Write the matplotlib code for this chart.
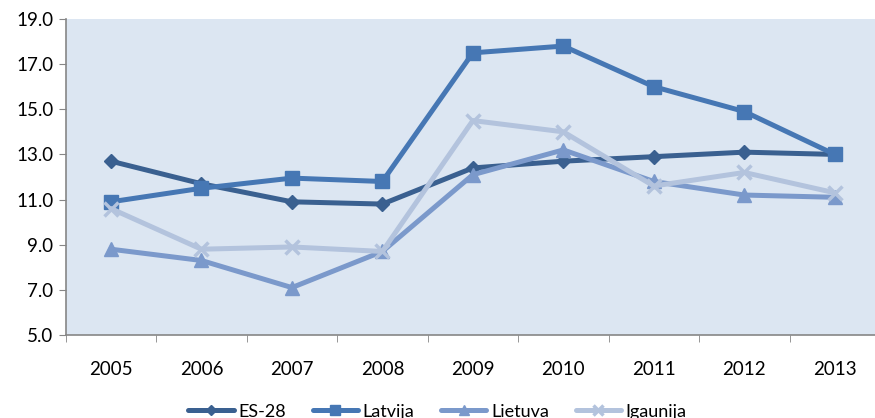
import numpy as np
import matplotlib.pyplot as plt

years = ['2005', '2006', '2007', '2008', '2009', '2010', '2011', '2012', '2013']
es28 = [12.7, 11.7, 10.9, 10.8, 12.4, 12.7, 12.9, 13.1, 13.0]
latvija = [10.9, 11.5, 11.95, 11.8, 17.5, 17.8, 16.0, 14.9, 13.0]
lietuva = [8.8, 8.3, 7.1, 8.7, 12.1, 13.2, 11.8, 11.2, 11.1]
igaunija = [10.6, 8.8, 8.9, 8.7, 14.5, 14.0, 11.6, 12.2, 11.3]

names = ['ES-28', 'Latvija', 'Lietuva', 'Igaunija']
colors = ['#3a6090', '#4677b4', '#7b99cb', '#b3c3dd']
markers = ['D', 's', '^', 'x']
msizes = [7, 10, 10, 10]

plt.rcParams['font.family'] = ['Lato', 'DejaVu Sans']

fig = plt.figure(figsize=(8.75, 4.18), dpi=100)
ax = fig.add_axes([0.0751, 0.1986, 0.9306, 0.756])
ax.set_facecolor('#dce6f2')

x = np.arange(len(years))
for vals, name, c, m, ms in zip([es28, latvija, lietuva, igaunija], names, colors, markers, msizes):
    ax.plot(x, vals, color=c, lw=3.6, marker=m, markersize=ms,
            markeredgewidth=2.5 if m == 'x' else 1, markeredgecolor=c,
            label=name, solid_joinstyle='round', solid_capstyle='round')

ax.set_xlim(-0.5, len(years) - 0.5)
ax.set_ylim(5, 19)
ax.set_yticks(np.arange(5, 20, 2))
ax.set_yticklabels(['%.1f' % v for v in np.arange(5, 20, 2)])
ax.set_xticks(x)
ax.set_xticklabels(years)
ax.set_xticks(np.arange(-0.5, len(years)), minor=True)
ax.tick_params(axis='x', which='major', length=0, pad=19, labelsize=13.5)
ax.tick_params(axis='x', which='minor', length=5, color='#868686', direction='out')
ax.tick_params(axis='y', length=5, color='#868686', direction='out', labelsize=13.5, pad=4)

for s in ['top', 'right']:
    ax.spines[s].set_visible(False)
for s in ['left', 'bottom']:
    ax.spines[s].set_color('#868686')
    ax.spines[s].set_linewidth(1.2)

fig.legend(loc='center', bbox_to_anchor=(0.5, 0.015), ncol=4, frameon=False,
           fontsize=13, handlelength=2.5, columnspacing=1.5, handletextpad=0.25,
           markerscale=0.75)

fig.savefig('out.png', dpi=100)
